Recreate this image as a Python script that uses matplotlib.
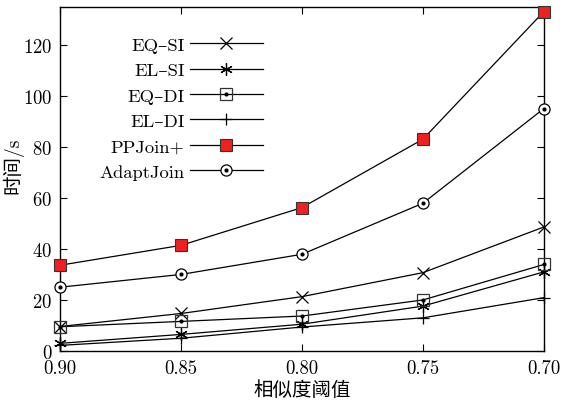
import matplotlib
matplotlib.use("Agg")
import matplotlib.pyplot as plt
from matplotlib.ticker import FormatStrFormatter

plt.rcParams['font.family'] = ['cmr10', 'DejaVu Serif', 'Noto Sans CJK SC']
plt.rcParams['axes.formatter.use_mathtext'] = True

thresholds = [0.90, 0.85, 0.80, 0.75, 0.70]
eq_si = [9.6, 14.7, 21.3, 30.7, 48.6]
el_si = [3.0, 6.5, 10.5, 17.6, 31.0]
eq_di = [9.5, 11.6, 13.7, 20.0, 33.9]
el_di = [2.2, 5.0, 9.4, 13.0, 20.9]
ppjoin = [33.6, 41.4, 56.2, 83.0, 133.0]
adapt = [25.0, 30.0, 37.9, 57.9, 95.0]

xticks = [0.90, 0.85, 0.80, 0.75, 0.70]
yticks = [0, 20, 40, 60, 80, 100, 120]

fig = plt.figure(figsize=(5.63, 4.06), dpi=100)
ax = fig.add_axes([0.1066, 0.133, 0.8594, 0.8485])

lw = 0.9
handles = []
h, = ax.plot(thresholds, eq_si, color='black', lw=lw, marker='x', ms=8, mew=0.9, clip_on=False, zorder=3)
handles.append((h,))
h, = ax.plot(thresholds, el_si, color='black', lw=lw, marker=(6, 2, 0), ms=9, mew=0.9, clip_on=False, zorder=3)
handles.append((h,))
h1, = ax.plot(thresholds, eq_di, color='black', lw=lw, marker='s', ms=8, mfc='none', mec='#333333', mew=0.9, clip_on=False, zorder=3)
h2, = ax.plot(thresholds, eq_di, ls='none', marker='o', ms=2, color='black', clip_on=False, zorder=4)
handles.append((h1, h2))
h, = ax.plot(thresholds, el_di, color='black', lw=lw, marker='+', ms=9, mew=0.9, clip_on=False, zorder=3)
handles.append((h,))
h, = ax.plot(thresholds, ppjoin, color='black', lw=lw, marker='s', ms=9, mfc='#ee2020', mec='#333333', mew=0.8, clip_on=False, zorder=5)
handles.append((h,))
h1, = ax.plot(thresholds, adapt, color='black', lw=lw, marker='o', ms=8, mfc='white', mec='black', mew=0.9, clip_on=False, zorder=3)
h2, = ax.plot(thresholds, adapt, ls='none', marker='o', ms=2, color='black', clip_on=False, zorder=4)
handles.append((h1, h2))

labels = ['EQ–SI', 'EL–SI', 'EQ–DI', 'EL–DI', 'PPJoin+', 'AdaptJoin']

ax.set_xlim(0.90, 0.70)
ax.set_ylim(0, 135)
ax.set_xticks(xticks)
ax.set_yticks(yticks)
ax.xaxis.set_major_formatter(FormatStrFormatter('%.2f'))
ax.tick_params(direction='in', top=True, right=True, labelsize=13.5, length=5, width=0.8, colors='black', pad=5.5)
for s in ax.spines.values():
    s.set_linewidth(1.0)

ax.set_xlabel('相似度阈值', fontsize=14)
ax.set_ylabel('时间/s', fontsize=14)
ax.xaxis.set_label_coords(0.5, -0.084)
ax.yaxis.set_label_coords(-0.076, 0.54)

leg = ax.legend(handles, labels, loc='upper right', bbox_to_anchor=(0.42, 0.912), markerfirst=False,
                frameon=False, fontsize=13.4, handlelength=3.95, handletextpad=0.27,
                labelspacing=0.5, borderaxespad=0, borderpad=0)

fig.savefig('out.png', dpi=100)
